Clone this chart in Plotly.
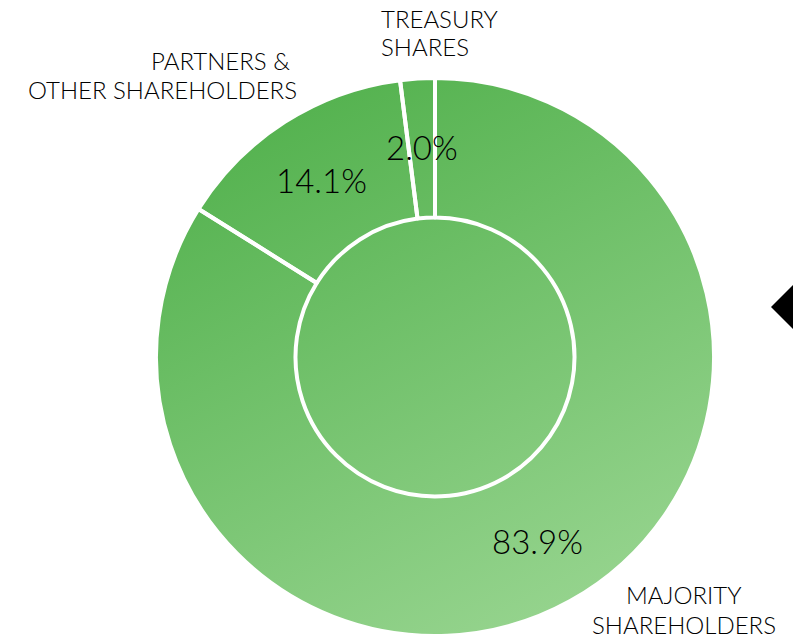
import base64
import math

import plotly.graph_objects as go

# --------------------------------------------------
# Data
# --------------------------------------------------
labels = ["MAJORITY SHAREHOLDERS", "PARTNERS & OTHER SHAREHOLDERS", "TREASURY SHARES"]
values = [83.9, 14.1, 2.0]
label_lines = [["MAJORITY", "SHAREHOLDERS"], ["PARTNERS &", "OTHER SHAREHOLDERS"], ["TREASURY", "SHARES"]]

# the page body has an 8px margin, so the figure is shifted by that much
OFF = 8
W, H = 801 - OFF, 636 - OFF
FONT = "Lato"


def px(x):
    return (x - OFF) / W


def py(y):
    return 1 - (y - OFF) / H


# pie box (square) in page pixels: centre (435, 357), radius 279
cx, cy, R = 435, 357, 279
dom_x = [px(cx - R), px(cx + R)]
dom_y = [py(cy + R), py(cy - R)]

# gradient disk drawn underneath the (transparent) pie
svg = (
    f"<svg xmlns='http://www.w3.org/2000/svg' width='{2*R}' height='{2*R}' viewBox='0 0 {2*R} {2*R}'>"
    "<defs><linearGradient id='g' x1='0.25' y1='0' x2='0.75' y2='1'>"
    "<stop offset='0' stop-color='#52b14d'/><stop offset='1' stop-color='#98d590'/>"
    "</linearGradient></defs>"
    f"<circle cx='{R}' cy='{R}' r='{R}' fill='url(#g)'/></svg>"
)
svg_uri = "data:image/svg+xml;base64," + base64.b64encode(svg.encode()).decode()

fig = go.Figure()

fig.add_trace(go.Pie(
    labels=labels,
    values=values,
    hole=0.5,
    sort=False,
    direction="clockwise",
    rotation=0,
    textinfo="none",
    hoverinfo="skip",
    marker=dict(colors=["rgba(0,0,0,0)"] * 3, line=dict(color="white", width=4)),
    domain=dict(x=dom_x, y=dom_y),
    showlegend=False,
))

# --------------------------------------------------
# Percent labels at slice mid-angles
# --------------------------------------------------
total = sum(values)
start = 0.0
annotations = []
for v in values:
    mid = (start + v / 2) / total * 2 * math.pi
    start += v
    r_txt = 0.755 * R
    annotations.append(dict(
        x=px(cx + r_txt * math.sin(mid)), y=py(cy - r_txt * math.cos(mid)),
        xref="paper", yref="paper",
        text=f"{v:.1f}%", showarrow=False,
        xanchor="center", yanchor="middle",
        font=dict(family=FONT, size=33, color="#000000", weight=300),
    ))

# category labels (one annotation per line), page pixel positions
label_pos = [
    dict(x=[684, 684], y=[578, 608], anchor="center"),
    dict(x=[292, 299], y=[44, 73], anchor="right"),
    dict(x=[379, 379], y=[2, 30], anchor="left"),
]
for lines, pos in zip(label_lines, label_pos):
    for line, lx, ly in zip(lines, pos["x"], pos["y"]):
        annotations.append(dict(
            x=px(lx), y=py(ly), xref="paper", yref="paper",
            text=line, showarrow=False,
            xanchor=pos["anchor"], yanchor="top",
            font=dict(family=FONT, size=24, color="#000000", weight=300),
        ))

fig.update_layout(
    width=W,
    height=H,
    margin=dict(l=0, r=0, t=0, b=0),
    paper_bgcolor="white",
    plot_bgcolor="white",
    images=[dict(
        source=svg_uri, xref="paper", yref="paper",
        x=dom_x[0], y=dom_y[1], sizex=dom_x[1] - dom_x[0], sizey=dom_y[1] - dom_y[0],
        xanchor="left", yanchor="top", sizing="stretch", layer="below",
    )],
    annotations=annotations,
    shapes=[dict(
        type="path", xref="paper", yref="paper",
        path=f"M {px(771)} {py(307)} L {px(831)} {py(247)} L {px(891)} {py(307)} L {px(831)} {py(367)} Z",
        fillcolor="black", line=dict(width=0),
    )],
)

fig.write_html("out.html")
